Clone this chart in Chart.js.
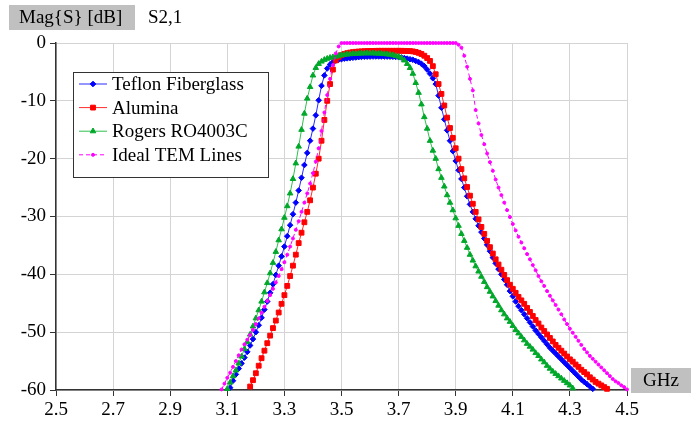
<!DOCTYPE html>
<html>
<head>
<meta charset="utf-8">
<script src="https://cdn.jsdelivr.net/npm/chart.js@4.4.1/dist/chart.umd.min.js"></script>
<style>
  html, body { margin: 0; padding: 0; background: #fff; }
  #wrap { width: 700px; height: 421px; }
</style>
</head>
<body>
<div id="wrap"><canvas id="s21Chart" width="700" height="421"></canvas></div>
<script>
// frequency points (GHz), 0.01 GHz apart
const freqs = [
  3.08, 3.09, 3.10, 3.11, 3.12, 3.13, 3.14, 3.15, 3.16, 3.17,
  3.18, 3.19, 3.20, 3.21, 3.22, 3.23, 3.24, 3.25, 3.26, 3.27,
  3.28, 3.29, 3.30, 3.31, 3.32, 3.33, 3.34, 3.35, 3.36, 3.37,
  3.38, 3.39, 3.40, 3.41, 3.42, 3.43, 3.44, 3.45, 3.46, 3.47,
  3.48, 3.49, 3.50, 3.51, 3.52, 3.53, 3.54, 3.55, 3.56, 3.57,
  3.58, 3.59, 3.60, 3.61, 3.62, 3.63, 3.64, 3.65, 3.66, 3.67,
  3.68, 3.69, 3.70, 3.71, 3.72, 3.73, 3.74, 3.75, 3.76, 3.77,
  3.78, 3.79, 3.80, 3.81, 3.82, 3.83, 3.84, 3.85, 3.86, 3.87,
  3.88, 3.89, 3.90, 3.91, 3.92, 3.93, 3.94, 3.95, 3.96, 3.97,
  3.98, 3.99, 4.00, 4.01, 4.02, 4.03, 4.04, 4.05, 4.06, 4.07,
  4.08, 4.09, 4.10, 4.11, 4.12, 4.13, 4.14, 4.15, 4.16, 4.17,
  4.18, 4.19, 4.20, 4.21, 4.22, 4.23, 4.24, 4.25, 4.26, 4.27,
  4.28, 4.29, 4.30, 4.31, 4.32, 4.33, 4.34, 4.35, 4.36, 4.37,
  4.38, 4.39, 4.40, 4.41, 4.42, 4.43, 4.44, 4.45, 4.46, 4.47,
  4.48, 4.49, 4.50
];

// |S21| in dB, one value per frequency above (null = below -60 dB)
const teflon = [
  null, null, null, -59.6, -58.4, -57.3, -56.3, -55.4, -54.4, -53.4,
  -52.3, -51.2, -50.0, -48.8, -47.5, -46.1, -44.7, -43.2, -41.7, -40.1,
  -38.5, -36.9, -35.2, -33.4, -31.5, -29.6, -27.6, -25.5, -23.3, -21.1,
  -19.0, -16.9, -14.8, -12.5, -9.9, -7.4, -5.6, -4.4, -3.7, -3.3,
  -3.05, -2.9, -2.8, -2.7, -2.65, -2.6, -2.55, -2.5, -2.45, -2.4,
  -2.38, -2.36, -2.35, -2.34, -2.33, -2.33, -2.33, -2.34, -2.35, -2.36,
  -2.38, -2.4, -2.45, -2.5, -2.6, -2.7, -2.8, -2.9, -3.1, -3.3,
  -3.6, -4.0, -4.6, -5.3, -6.1, -7.1, -9.1, -11.2, -13.2, -15.1,
  -16.9, -18.7, -20.4, -22.0, -23.5, -25.0, -26.5, -27.9, -29.2, -30.4,
  -31.6, -32.7, -33.8, -34.9, -36.0, -37.1, -38.1, -39.1, -40.0, -40.9,
  -41.8, -42.9, -43.8, -44.7, -45.5, -46.2, -46.9, -47.6, -48.3, -49.0,
  -49.7, -50.3, -50.9, -51.5, -52.1, -52.7, -53.2, -53.7, -54.2, -54.7,
  -55.2, -55.7, -56.2, -56.7, -57.2, -57.7, -58.2, -58.6, -59.0, -59.4,
  -59.8, null, null, null, null, null, null, null, null, null,
  null, null, null
];

const alumina = [
  null, null, null, null, null, null, null, null, null, null,
  -59.4, -58.3, -57.1, -55.8, -54.5, -53.2, -51.9, -50.6, -49.3, -48.0,
  -46.6, -45.1, -43.6, -42.0, -40.3, -38.5, -36.6, -34.6, -32.8, -31.0,
  -29.2, -27.2, -25.0, -22.6, -20.0, -16.9, -13.3, -10.0, -7.1, -4.6,
  -3.0, -2.4, -2.1, -1.9, -1.75, -1.65, -1.58, -1.52, -1.48, -1.45,
  -1.42, -1.4, -1.38, -1.37, -1.36, -1.35, -1.35, -1.35, -1.35, -1.35,
  -1.35, -1.35, -1.35, -1.35, -1.36, -1.38, -1.4, -1.45, -1.55, -1.7,
  -1.9, -2.2, -2.6, -3.1, -4.0, -5.4, -7.1, -8.8, -10.8, -12.9,
  -14.7, -16.4, -18.2, -20.0, -21.8, -23.4, -24.9, -26.4, -27.8, -29.2,
  -30.5, -31.8, -33.0, -34.2, -35.3, -36.4, -37.4, -38.3, -39.2, -40.1,
  -41.0, -41.8, -42.5, -43.2, -43.9, -44.5, -45.1, -45.8, -46.5, -47.2,
  -47.9, -48.5, -49.2, -49.8, -50.4, -51.0, -51.6, -52.2, -52.7, -53.2,
  -53.7, -54.2, -54.7, -55.1, -55.6, -56.0, -56.5, -56.9, -57.3, -57.8,
  -58.2, -58.6, -58.9, -59.2, -59.5, -59.8, null, null, null, null,
  null, null, null
];

const rogers = [
  null, null, -59.8, -58.7, -57.6, -56.6, -55.4, -54.2, -52.9, -51.7,
  -50.4, -49.0, -47.6, -46.2, -44.7, -43.1, -41.5, -39.8, -38.0, -36.1,
  -34.1, -32.2, -30.2, -28.2, -26.0, -23.5, -20.8, -17.9, -15.0, -12.2,
  -9.6, -7.6, -5.6, -4.3, -3.6, -3.2, -2.9, -2.7, -2.55, -2.45,
  -2.35, -2.2, -2.1, -2.03, -1.97, -1.92, -1.88, -1.85, -1.82, -1.8,
  -1.78, -1.77, -1.77, -1.78, -1.8, -1.82, -1.85, -1.9, -1.95, -2.0,
  -2.1, -2.2, -2.35, -2.6, -3.0, -3.6, -4.3, -5.3, -6.9, -8.6,
  -10.6, -12.8, -14.8, -16.9, -18.6, -20.0, -21.8, -23.3, -24.8, -26.3,
  -27.6, -28.9, -30.3, -31.6, -33.0, -34.2, -35.4, -36.6, -37.6, -38.6,
  -39.5, -40.4, -41.3, -42.2, -43.0, -43.8, -44.6, -45.4, -46.2, -46.9,
  -47.6, -48.2, -48.9, -49.6, -50.2, -50.8, -51.4, -52.0, -52.5, -53.0,
  -53.6, -54.1, -54.7, -55.2, -55.8, -56.3, -56.8, -57.2, -57.6, -58.0,
  -58.4, -58.8, -59.2, -59.7, null, null, null, null, null, null,
  null, null, null, null, null, null, null, null, null, null,
  null, null, null
];

const idealTem = [
  -59.9, -58.9, -57.9, -57.0, -56.0, -55.0, -54.0, -53.0, -52.1, -51.3,
  -50.5, -49.6, -48.6, -47.6, -46.6, -45.6, -44.6, -43.6, -42.5, -41.4,
  -40.3, -39.1, -37.9, -36.6, -35.2, -33.8, -32.3, -30.8, -29.2, -27.6,
  -26.0, -24.3, -22.5, -20.5, -18.2, -15.2, -12.0, -9.0, -6.2, -3.8,
  -1.8, -0.6, 0, 0, 0, 0, 0, 0, 0, 0,
  0, 0, 0, 0, 0, 0, 0, 0, 0, 0,
  0, 0, 0, 0, 0, 0, 0, 0, 0, 0,
  0, 0, 0, 0, 0, 0, 0, 0, 0, 0,
  0, 0, 0, -0.3, -0.8, -2.2, -4.1, -6.2, -8.2, -11.6,
  -13.9, -15.9, -17.5, -19.1, -20.6, -22.1, -23.6, -25.0, -26.3, -27.6,
  -28.9, -30.1, -31.3, -32.4, -33.5, -34.5, -35.5, -36.5, -37.4, -38.4,
  -39.3, -40.3, -41.2, -42.0, -42.9, -43.7, -44.5, -45.3, -46.1, -46.9,
  -47.8, -48.6, -49.4, -50.1, -50.8, -51.5, -52.2, -52.9, -53.5, -54.1,
  -54.6, -55.1, -55.6, -56.1, -56.6, -57.1, -57.6, -58.1, -58.5, -58.8,
  -59.2, -59.5, -59.9
];

const FONT_FAMILY = '"Liberation Serif", "Times New Roman", serif';
const FONT_SIZE = 19;

function toPoints(values) {
  const pts = [];
  values.forEach((v, i) => { if (v !== null) pts.push({ x: freqs[i], y: v }); });
  return pts;
}

function series(label, values, color, lineColor, style, radius, order, dash) {
  return {
    label,
    data: toPoints(values),
    borderColor: lineColor,
    backgroundColor: color,
    borderWidth: 1,
    borderDash: dash || [],
    pointStyle: style,
    pointRadius: radius,
    pointBorderWidth: 1,
    pointBackgroundColor: color,
    pointBorderColor: color,
    tension: 0,
    clip: 5,
    order,
  };
}

// captions and the boxed legend, drawn on top of the plot
const overlay = {
  id: "overlay",
  afterDraw(chart) {
    const ctx = chart.ctx;
    ctx.save();
    ctx.font = `${FONT_SIZE}px ${FONT_FAMILY}`;
    ctx.textBaseline = "middle";

    ctx.fillStyle = "#c0c0c0";
    ctx.fillRect(9, 5, 126, 25);
    ctx.fillStyle = "#000";
    ctx.textAlign = "left";
    ctx.fillText("Mag{S} [dB]", 19, 18);
    ctx.fillText("S2,1", 148, 18);

    ctx.fillStyle = "#c0c0c0";
    ctx.fillRect(631, 368, 60, 25);
    ctx.fillStyle = "#000";
    ctx.textAlign = "center";
    ctx.fillText("GHz", 661, 381);

    // legend box
    const bx = 73, by = 72, bw = 195, bh = 105;
    ctx.fillStyle = "#fff";
    ctx.fillRect(bx, by, bw, bh);
    ctx.strokeStyle = "#333";
    ctx.lineWidth = 1;
    ctx.strokeRect(bx + 0.5, by + 0.5, bw, bh);

    ctx.textAlign = "left";
    chart.data.datasets.forEach((ds, i) => {
      const y = 84 + i * 23.6;
      ctx.strokeStyle = ds.borderColor;
      ctx.lineWidth = 1;
      ctx.setLineDash(ds.borderDash);
      ctx.beginPath();
      ctx.moveTo(79, y);
      ctx.lineTo(107, y);
      ctx.stroke();
      ctx.setLineDash([]);
      ctx.fillStyle = ds.pointBackgroundColor;
      ctx.strokeStyle = ds.pointBorderColor;
      Chart.helpers.drawPoint(ctx, {
        pointStyle: ds.pointStyle, radius: ds.pointRadius, rotation: 0, borderWidth: 1,
      }, 93, y);
      ctx.fillStyle = "#000";
      ctx.fillText(ds.label, 112, y + 1);
    });
    ctx.restore();
  }
};

const tickFont = { family: FONT_FAMILY, size: FONT_SIZE };

new Chart(document.getElementById("s21Chart"), {
  type: "line",
  data: {
    datasets: [
      series("Teflon Fiberglass", teflon, "#0000ff", "#2a2aff", "rectRot", 2.8, 4),
      series("Alumina", alumina, "#ff0000", "#ff2a2a", "rect", 3.4, 3),
      series("Rogers RO4003C", rogers, "#00a82a", "#2fbf4f", "triangle", 3.2, 2),
      series("Ideal TEM Lines", idealTem, "#ff00ff", "#ff00ff", "circle", 1.5, 1, [4, 3]),
    ]
  },
  options: {
    responsive: false,
    animation: false,
    layout: { padding: { top: 43, right: 73, left: 0, bottom: 0 } },
    plugins: { legend: { display: false }, tooltip: { enabled: false } },
    scales: {
      x: {
        type: "linear",
        min: 2.5,
        max: 4.5,
        afterFit(scale) { scale.height = 31; },
        ticks: {
          stepSize: 0.2, autoSkip: false, maxRotation: 0, padding: 3,
          color: "#000", font: tickFont,
          callback: v => v.toFixed(1),
        },
        grid: { color: "#d4d4d4", lineWidth: 1, tickLength: 6, tickColor: "#333" },
        border: { color: "#333", width: 1.5 },
      },
      y: {
        min: -60,
        max: 0,
        afterFit(scale) { scale.width = 56; },
        ticks: { stepSize: 10, padding: 4, color: "#000", font: tickFont },
        grid: { color: "#d4d4d4", lineWidth: 1, tickLength: 6, tickColor: "#333" },
        border: { color: "#333", width: 1.5 },
      }
    }
  },
  plugins: [overlay]
});
</script>
</body>
</html>
